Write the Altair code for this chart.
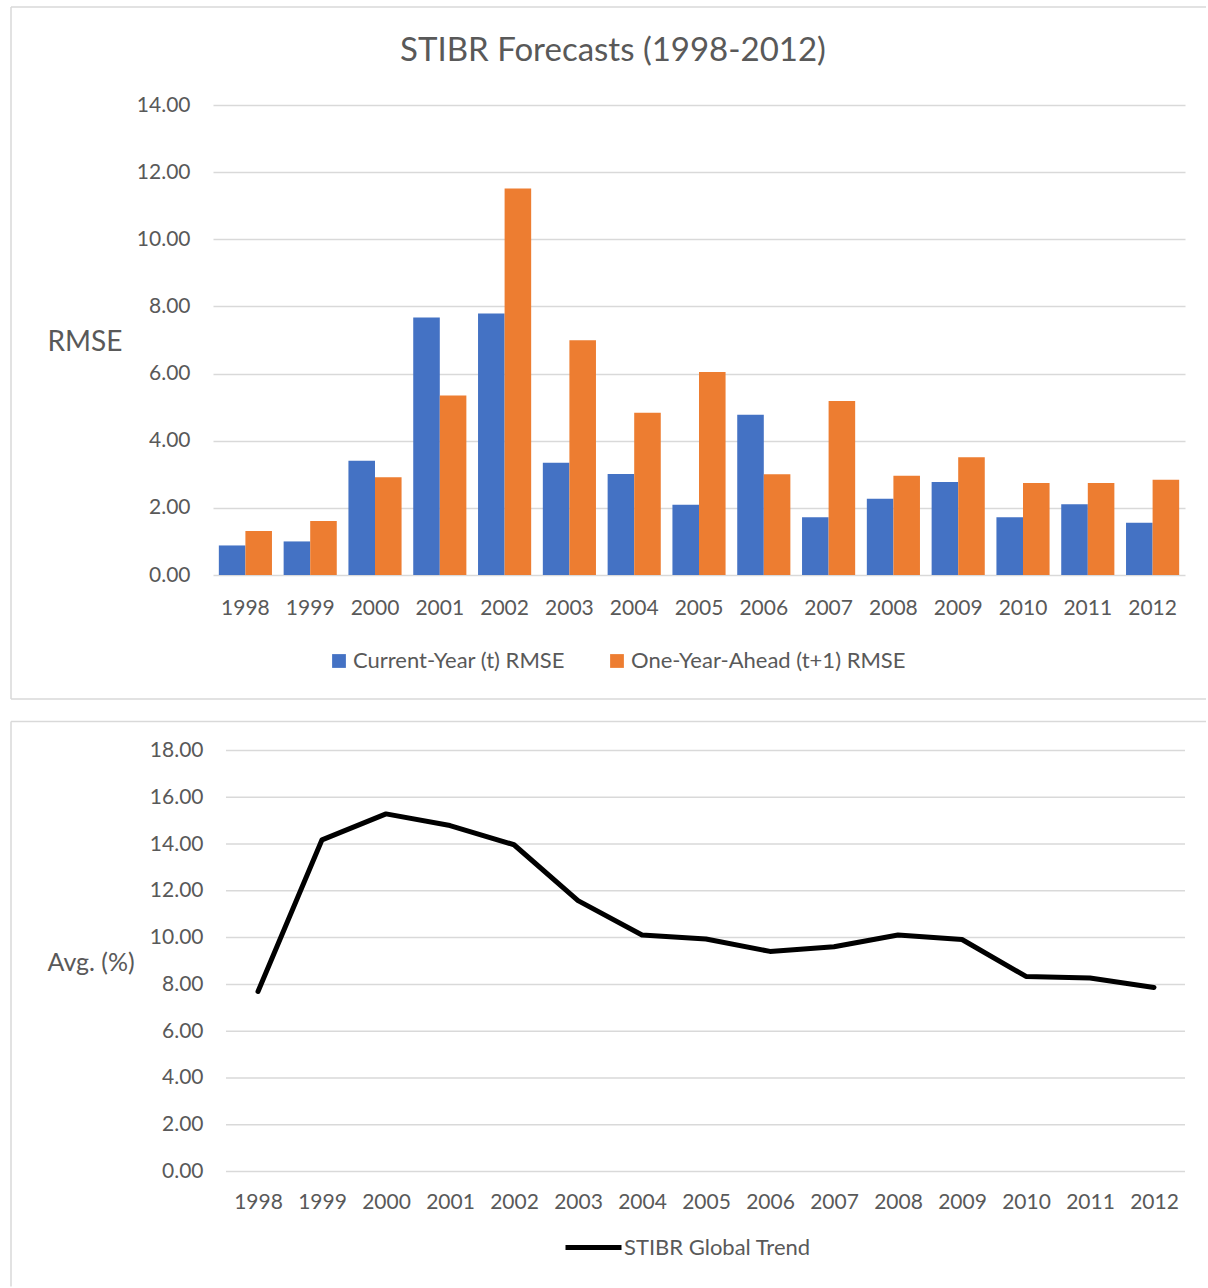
import altair as alt
import pandas as pd

# ---- data -------------------------------------------------------------
years = ["1998", "1999", "2000", "2001", "2002", "2003", "2004", "2005",
         "2006", "2007", "2008", "2009", "2010", "2011", "2012"]
current_year_rmse = [0.88, 1.00, 3.40, 7.67, 7.79, 3.34, 3.01, 2.09,
                     4.77, 1.72, 2.27, 2.77, 1.72, 2.11, 1.56]
one_year_ahead_rmse = [1.31, 1.61, 2.91, 5.35, 11.51, 6.99, 4.83, 6.05,
                       3.00, 5.18, 2.96, 3.51, 2.74, 2.74, 2.84]
global_trend_avg = [7.70, 14.18, 15.29, 14.79, 13.97, 11.58, 10.11, 9.94,
                    9.41, 9.61, 10.11, 9.92, 8.34, 8.27, 7.87]

series_names = ["Current-Year (t) RMSE", "One-Year-Ahead (t+1) RMSE"]
series_colors = ["#4472C4", "#ED7D31"]
trend_name = "STIBR Global Trend"
rmse_ticks = [0, 2, 4, 6, 8, 10, 12, 14]
avg_ticks = [0, 2, 4, 6, 8, 10, 12, 14, 16, 18]

# ---- styling ----------------------------------------------------------
FONT = "Lato"
TEXT = "#595959"
GRID = "#D9D9D9"
PLOT_W = 972
TOP_H = 470
BOT_H = 421
# vertical distance between the two plot areas (legends live in the
# top-level group, so the lower legend is placed relative to the top plot)
PANEL_SHIFT = 645

bars_df = pd.DataFrame({
    "year": years * 2,
    "series": [series_names[0]] * len(years) + [series_names[1]] * len(years),
    "rmse": current_year_rmse + one_year_ahead_rmse,
})
trend_df = pd.DataFrame({"year": years, "avg": global_trend_avg,
                         "series": [trend_name] * len(years)})
one_row = pd.DataFrame({"k": [0]})


def frame_rules(edges):
    """Light grey panel outline drawn as individual rules."""
    out = []
    for x1, x2, y1, y2 in edges:
        enc = {"x": alt.value(x1), "y": alt.value(y1)}
        if x2 is not None:
            enc["x2"] = alt.value(x2)
        if y2 is not None:
            enc["y2"] = alt.value(y2)
        out.append(alt.Chart(one_row).mark_rule(color=GRID, strokeWidth=1.5).encode(**enc))
    return out


# ---- top panel: grouped bars -----------------------------------------
top_y = alt.Y(
    "rmse:Q",
    scale=alt.Scale(domain=[0, 14], nice=False),
    axis=alt.Axis(
        values=rmse_ticks, format=".2f", ticks=False, domain=False,
        grid=True, gridColor=GRID, gridWidth=1.5,
        labelFont=FONT, labelFontSize=21, labelColor=TEXT, labelPadding=23,
        title="RMSE", titleAngle=0, titleFont=FONT, titleFontSize=28,
        titleFontWeight="normal", titleColor=TEXT, titleAlign="left",
        titleBaseline="middle", titleX=-166, titleY=237,
    ),
)

bars = alt.Chart(bars_df).mark_bar().encode(
    x=alt.X(
        "year:N", sort=years,
        scale=alt.Scale(paddingInner=0.18, paddingOuter=0.09),
        axis=alt.Axis(title=None, labelAngle=0, ticks=False, domain=False,
                      labelFont=FONT, labelFontSize=21, labelColor=TEXT,
                      labelPadding=22),
    ),
    xOffset=alt.XOffset("series:N", sort=series_names,
                        scale=alt.Scale(paddingInner=0, paddingOuter=0)),
    y=top_y,
    color=alt.Color(
        "series:N", sort=series_names,
        scale=alt.Scale(domain=series_names, range=series_colors),
        legend=alt.Legend(
            title=None, orient="none", legendX=115, legendY=545,
            direction="horizontal", symbolType="square", symbolSize=190,
            symbolStrokeWidth=0, labelFont=FONT, labelFontSize=22,
            labelColor=TEXT, labelOffset=3, columnPadding=41, padding=0,
            labelLimit=500,
        ),
    ),
)

top = alt.layer(
    bars,
    *frame_rules([
        (-202, 993, -98, None),
        (-202, None, -98, 594),
        (-202, 993, 594, None),
    ]),
).properties(
    width=PLOT_W, height=TOP_H,
    title=alt.TitleParams(
        text="STIBR Forecasts (1998-2012)", font=FONT, fontSize=33,
        fontWeight="normal", color=TEXT, anchor="middle", frame="group",
        dx=-86, offset=-62,
    ),
)

# ---- bottom panel: trend line ----------------------------------------
bot_y = alt.Y(
    "avg:Q",
    scale=alt.Scale(domain=[0, 18], nice=False),
    axis=alt.Axis(
        values=avg_ticks, format=".2f", ticks=False, domain=False, grid=False,
        labelFont=FONT, labelFontSize=21, labelColor=TEXT, labelPadding=10,
        title="Avg. (%)", titleAngle=0, titleFont=FONT, titleFontSize=25,
        titleFontWeight="normal", titleColor=TEXT, titleAlign="left",
        titleBaseline="middle", titleX=-166, titleY=212,
    ),
)

grid_rules = alt.Chart(pd.DataFrame({"avg": avg_ticks})).mark_rule(
    color=GRID, strokeWidth=1.5
).encode(y=bot_y, x=alt.value(13), x2=alt.value(PLOT_W))

trend = alt.Chart(trend_df).mark_line(
    strokeWidth=5, strokeCap="round", strokeJoin="round"
).encode(
    x=alt.X(
        "year:O", sort=years,
        scale=alt.Scale(type="point", range=[45, 941], padding=0),
        axis=alt.Axis(title=None, labelAngle=0, ticks=False, domain=False,
                      grid=False, labelFont=FONT, labelFontSize=21,
                      labelColor=TEXT, labelPadding=20),
    ),
    y=bot_y,
    stroke=alt.Stroke(
        "series:N", scale=alt.Scale(domain=[trend_name], range=["#000000"]),
        legend=alt.Legend(
            title=None, orient="none", legendX=350, legendY=467 + PANEL_SHIFT,
            symbolType="stroke", symbolSize=3136, symbolStrokeWidth=5,
            labelFont=FONT, labelFontSize=22, labelColor=TEXT,
            labelOffset=0, padding=0, labelLimit=500,
        ),
    ),
)

bottom = alt.layer(
    grid_rules,
    trend,
    *frame_rules([
        (-202, 993, -29, None),
        (-202, None, -29, 536),
    ]),
).properties(width=PLOT_W, height=BOT_H)

chart = (
    alt.vconcat(top, bottom, spacing=20.5)
    .properties(
        padding={"left": 10, "top": 6, "right": 0, "bottom": 0},
        background="white",
    )
    .configure(font=FONT)
    .configure_view(strokeWidth=0, stroke="transparent")
)

chart.save("out.html", embed_options={"renderer": "svg", "actions": False})
